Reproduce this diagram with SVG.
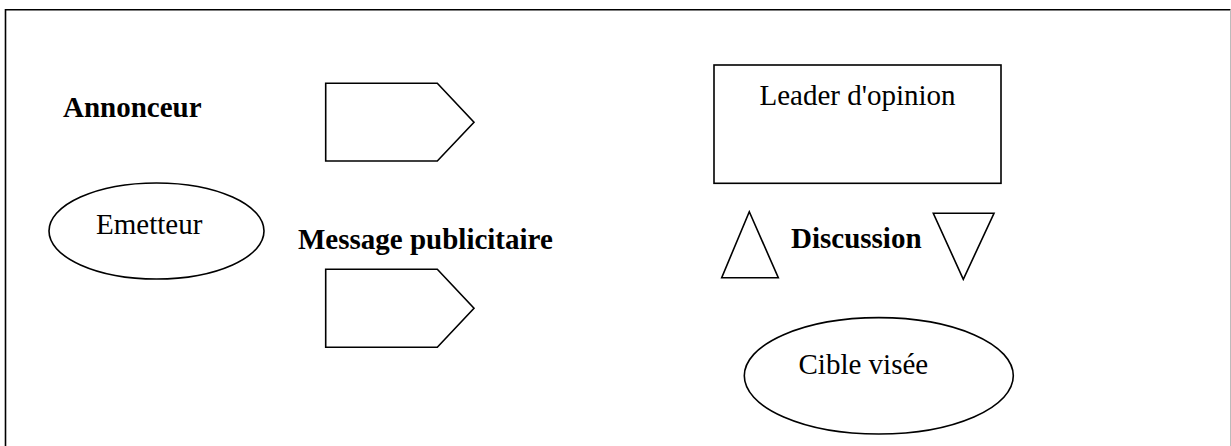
<svg xmlns="http://www.w3.org/2000/svg" width="1231" height="446" viewBox="0 0 1231 446">
<style>
.s{fill:none;stroke:#000;stroke-width:1.6}
.t{font-family:"Liberation Serif","Times New Roman",serif;font-size:29px;fill:#000}
.b{font-weight:bold}
</style>
<rect x="0" y="0" width="1231" height="446" fill="#fff"/>
<path d="M5.5,460 V9.8 H1230.5" fill="none" stroke="#000" stroke-width="1.6"/>
<path d="M1230.5,9.8 V460" fill="none" stroke="#bbb" stroke-width="1"/>
<g id="annonceur"><text class="t b" x="63" y="117">Annonceur</text></g>
<g id="emetteur">
<ellipse class="s" cx="156.5" cy="231" rx="107.5" ry="48"/>
<text class="t" x="96" y="234">Emetteur</text>
</g>
<g id="arrow1"><polygon class="s" points="325.7,83.3 437.3,83.3 474,122.3 437.3,161 325.7,161"/></g>
<g id="message"><text class="t b" x="298" y="248.5">Message publicitaire</text></g>
<g id="arrow2"><polygon class="s" points="325.7,269.3 437.3,269.3 474,308.3 437.3,347.3 325.7,347.3"/></g>
<g id="leader">
<rect class="s" x="714" y="65" width="287" height="118.3"/>
<text class="t" x="759.5" y="105.3">Leader d'opinion</text>
</g>
<g id="tri-up"><polygon class="s" points="749.3,211.7 778.3,277.7 721.7,277.7"/></g>
<g id="discussion"><text class="t b" x="791" y="248">Discussion</text></g>
<g id="tri-down"><polygon class="s" points="933.3,213.3 994,213.3 963.3,279.3"/></g>
<g id="cible">
<ellipse class="s" cx="878.8" cy="375.8" rx="134.5" ry="58.2"/>
<text class="t" x="798.5" y="373.7">Cible visée</text>
</g>
<g id="connectors"></g>
</svg>
